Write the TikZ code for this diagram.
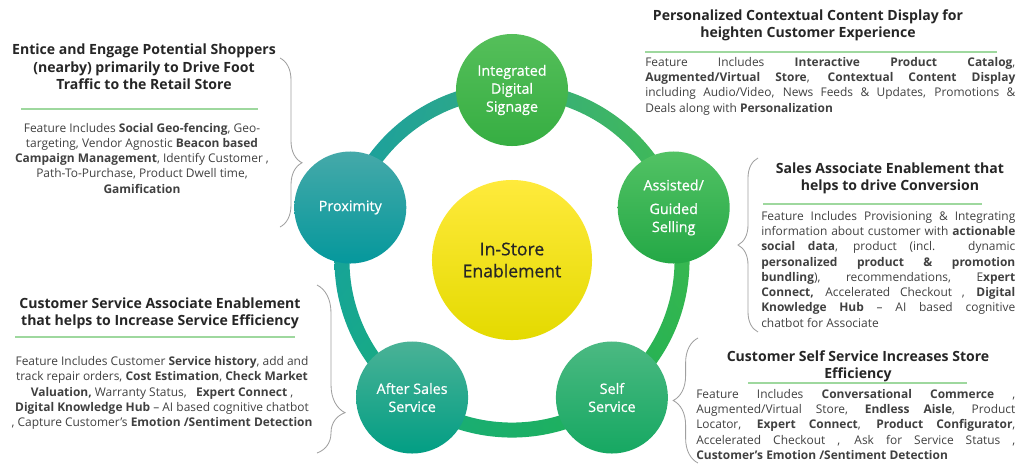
\documentclass[tikz,border=0pt]{standalone}
\usepackage{fontspec}
\setmainfont{Open Sans}
\newfontfamily\spokefont{Open Sans}[FakeBold=0.6]
\usetikzlibrary{positioning,decorations.pathreplacing,shadings}
\definecolor{txtdark}{HTML}{262626}
\definecolor{txtbody}{HTML}{404040}
\definecolor{rulegreen}{HTML}{9ED89E}
\definecolor{bracegray}{HTML}{A0A0A0}
\definecolor{proxTop}{HTML}{45A9A9}
\definecolor{proxBot}{HTML}{05989C}
\definecolor{signTop}{HTML}{55BF5A}
\definecolor{signBot}{HTML}{36AE42}
\definecolor{assiTop}{HTML}{52C264}
\definecolor{assiBot}{HTML}{24A846}
\definecolor{afterTop}{HTML}{4AB296}
\definecolor{afterBot}{HTML}{029E84}
\definecolor{selfTop}{HTML}{4BB982}
\definecolor{selfBot}{HTML}{16A862}
\definecolor{hubTop}{HTML}{FFEA3C}
\definecolor{hubMid}{HTML}{FFF000}
\definecolor{hubBot}{HTML}{E4DA00}
\definecolor{ringUL}{HTML}{1A9BAA}
\definecolor{ringUR}{HTML}{4CBD55}
\definecolor{ringLL}{HTML}{13AC86}
\definecolor{ringLR}{HTML}{22B24A}
\tikzset{
  spoke/.style={circle, minimum size=2.8cm, inner sep=0pt, align=center,
    text=white, font=\spokefont\fontsize{10.2}{12.8}\selectfont},
  hubnode/.style={circle, minimum size=4cm, inner sep=0pt, align=center,
    text=txtdark, font=\spokefont\fontsize{12.5}{15.6}\selectfont,
    top color=hubTop, middle color=hubMid, bottom color=hubBot},
  headtxt/.style={align=center, inner sep=0pt, text=txtdark,
    font=\bfseries\fontsize{10}{12.3}\selectfont},
  bodytxt/.style={align=center, inner sep=0pt, text=txtbody,
    font=\fontsize{8.5}{10.85}\selectfont},
  bodyjust/.style={bodytxt, align=justify, anchor=north west},
  greenrule/.style={draw=rulegreen, line width=0.8pt},
  bracket/.style={draw=bracegray, line width=0.6pt, decorate,
    decoration={brace, aspect=#1}}
}
\begin{document}
\begin{tikzpicture}[x=0.025cm, y=-0.025cm]
  \useasboundingbox (0,0) rectangle (1024,470);

  % ring behind the circles
  \coordinate (c0) at (512,260);
  \shade[even odd rule, upper left=ringUL, upper right=ringUR,
    lower left=ringLL, lower right=ringLR]
    (c0) circle (4.4375cm) (c0) circle (4.0625cm);

  \node[hubnode] (hub) at (c0) {In-Store\\Enablement};
  \node[spoke, top color=signTop, bottom color=signBot] (sign) at (512,90) {Integrated\\Digital\\Signage};
  \node[spoke, top color=assiTop, bottom color=assiBot] (assi) at (673.7,207.5) {Assisted/\\[4pt]Guided\\Selling};
  \node[spoke, top color=selfTop, bottom color=selfBot] (self) at (611.9,397.5) {Self\\Service};
  \node[spoke, top color=afterTop, bottom color=afterBot] (after) at (412.1,397.5) {After Sales\\Service};
  \node[spoke, top color=proxTop, bottom color=proxBot] (prox) at (350.3,207.5) {Proximity};

  % proximity
  \node[headtxt] (prox-head) at (144,67) {Entice and Engage Potential Shoppers\\(nearby) primarily to Drive Foot\\Traffic to the Retail Store};
  \draw[greenrule] (21,109) -- (258,109);
  \node[bodytxt] (prox-body) at (142,158) {Feature Includes \textbf{Social Geo-fencing}, Geo-\\targeting, Vendor Agnostic \textbf{Beacon based}\\\textbf{Campaign Management}, Identify Customer ,\\Path-To-Purchase, Product Dwell time,\\\textbf{Gamification}};
  \coordinate (prox-b1) at (280,58);
  \coordinate (prox-b2) at (280,227);
  \draw[bracket=0.62, decoration={amplitude=0.55cm}] (prox-b1) -- (prox-b2);

  % signage
  \node[headtxt] (sign-head) at (808,25) {Personalized Contextual Content Display for\\heighten Customer Experience};
  \draw[greenrule] (645,52) -- (997,52);
  \node[bodyjust, text width=9.25cm] (sign-body) at (645,57) {Feature Includes \textbf{Interactive Product Catalog}, \linebreak \textbf{Augmented/Virtual Store}, \textbf{Contextual Content Display} \linebreak including Audio/Video, News Feeds \& Updates, Promotions \& \linebreak Deals along with \textbf{Personalization}};

  % assisted selling
  \node[headtxt] (assi-head) at (890,178) {Sales Associate Enablement that\\helps to drive Conversion};
  \draw[greenrule] (763,204) -- (982,204);
  \node[bodyjust, text width=6.35cm] (assi-body) at (761,211) {Feature Includes Provisioning \& Integrating \linebreak information about customer with \textbf{actionable} \linebreak \textbf{social data}, product (incl. dynamic \linebreak \textbf{personalized product \& promotion} \linebreak \textbf{bundling}), recommendations, E\textbf{xpert} \linebreak \textbf{Connect,} Accelerated Checkout , \textbf{Digital} \linebreak \textbf{Knowledge Hub} – AI based cognitive \linebreak chatbot for Associate};
  \coordinate (assi-b1) at (758,332);
  \coordinate (assi-b2) at (758,158);
  \draw[bracket=0.5, decoration={amplitude=0.5cm}] (assi-b1) -- (assi-b2);

  % self service
  \node[headtxt] (self-head) at (858,366) {Customer Self Service Increases Store\\Efficiency};
  \draw[greenrule] (748,383) -- (967,383);
  \node[bodyjust, text width=7.975cm] (self-body) at (696,389) {Feature Includes \textbf{Conversational Commerce} , \linebreak Augmented/Virtual Store, \textbf{Endless Aisle}, Product \linebreak Locator, \textbf{Expert Connect}, \textbf{Product Configurator}, \linebreak Accelerated Checkout , Ask for Service Status , \linebreak \textbf{Customer's Emotion /Sentiment Detection}};
  \coordinate (self-b1) at (698,463);
  \coordinate (self-b2) at (698,338);
  \draw[bracket=0.5, decoration={amplitude=0.62cm}] (self-b1) -- (self-b2);

  % after sales
  \node[headtxt] (after-head) at (160,313) {Customer Service Associate Enablement\\that helps to Increase Service Efficiency};
  \draw[greenrule] (15,337) -- (295,337);
  \node[bodytxt] (after-body) at (162,393) {Feature Includes Customer \textbf{Service history}, add and\\track repair orders, \textbf{Cost Estimation}, \textbf{Check Market}\\\textbf{Valuation,} Warranty Status, \ \ \textbf{Expert Connect} ,\\\textbf{Digital Knowledge Hub} – AI based cognitive chatbot\\, Capture Customer's \textbf{Emotion /Sentiment Detection}};
  \coordinate (after-b1) at (317,285);
  \coordinate (after-b2) at (317,453);
  \draw[bracket=0.76, decoration={amplitude=0.7cm}] (after-b1) -- (after-b2);
\end{tikzpicture}
\end{document}
